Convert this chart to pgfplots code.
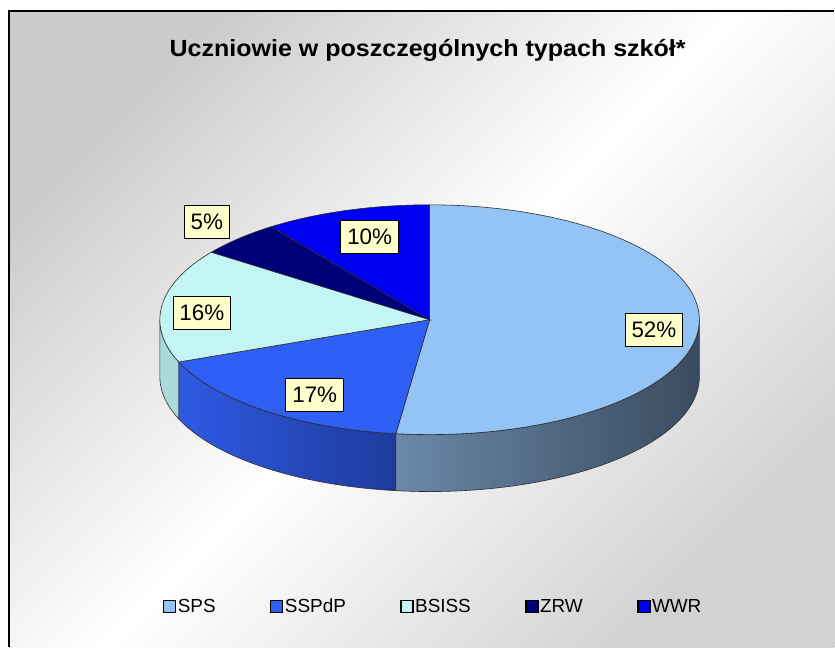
\documentclass[border=0pt]{standalone}
\usepackage{pgfplots}
\usepackage{pgfplotstable}
\pgfplotsset{compat=1.18}
\usepackage{fontspec}
\setmainfont{Liberation Sans}
\usepackage{graphicx}

\definecolor{cSPS}{RGB}{147,196,245}
\definecolor{cSSP}{RGB}{47,95,245}
\definecolor{cBSI}{RGB}{196,245,245}
\definecolor{cZRW}{RGB}{0,0,120}
\definecolor{cWWR}{RGB}{0,0,240}
\definecolor{edgec}{RGB}{45,45,45}
\definecolor{lblc}{RGB}{255,255,204}
\definecolor{wSPSa}{RGB}{106,136,168}
\definecolor{wSPSb}{RGB}{64,82,103}
\definecolor{wSPSc}{RGB}{58,75,95}
\definecolor{wSSPa}{RGB}{46,90,228}
\definecolor{wSSPb}{RGB}{38,74,196}
\definecolor{wSSPc}{RGB}{30,58,155}
\definecolor{wBSI}{RGB}{170,218,218}
\definecolor{bgA}{RGB}{204,204,204}
\definecolor{bgB}{RGB}{210,210,210}

\pgfplotstableread{
name pct
SPS 52
SSPdP 17
BSISS 16
ZRW 5
WWR 10
}\piedata

\def\cx{430}\def\cy{320}\def\rx{270}\def\ry{115}\def\dz{57}

\newcommand\wall[3]{%
\addplot[forget plot, draw=edgec, line width=0.6bp, #3, variable=\t,
  samples at={0,2,...,100,100.001,102,104,...,200}]
 ({\cx+\rx*cos(ifthenelse(\t<=100, #1+(#2-#1)*\t/100, #2-(#2-#1)*(\t-100)/100))},
  {\cy-\ry*sin(ifthenelse(\t<=100, #1+(#2-#1)*\t/100, #2-(#2-#1)*(\t-100)/100))+ifthenelse(\t<=100,0,\dz)}) -- cycle;}

\newcommand\slice[3]{%
\addplot[draw=edgec, line width=0.6bp, fill=#3, variable=\t, domain=0:100, samples=80]
 ({\cx+\rx*cos(#1+(#2-#1)*\t/100)},{\cy-\ry*sin(#1+(#2-#1)*\t/100)}) -- (axis cs:\cx,\cy) -- cycle;}

\tikzset{lbl/.style={draw=black, line width=0.8bp, fill=lblc, inner xsep=6.5bp,
  inner ysep=0pt, minimum height=33bp, font=\fontsize{22.5}{26}\selectfont}}

\begin{document}%
\begin{tikzpicture}
\pgfplotstablegetelem{0}{pct}\of\piedata \let\pA\pgfplotsretval
\pgfplotstablegetelem{1}{pct}\of\piedata \let\pB\pgfplotsretval
\pgfplotstablegetelem{2}{pct}\of\piedata \let\pC\pgfplotsretval
\pgfplotstablegetelem{3}{pct}\of\piedata \let\pD\pgfplotsretval
\pgfplotstablegetelem{4}{pct}\of\piedata \let\pE\pgfplotsretval
\pgfmathsetmacro\aA{90}
\pgfmathsetmacro\aB{\aA-3.6*\pA}
\pgfmathsetmacro\aC{\aB-3.6*\pB}
\pgfmathsetmacro\aD{\aC-3.6*\pC}
\pgfmathsetmacro\aE{\aD-3.6*\pD}
\pgfmathsetmacro\aF{\aE-3.6*\pE}
\begin{axis}[
  width=835bp, height=648bp, scale only axis,
  xmin=0, xmax=835, ymin=0, ymax=648, y dir=reverse,
  hide axis, clip=false,
  legend columns=5,
  legend style={at={(0.519,0.0633)}, anchor=center, draw=none, fill=none,
    font=\fontsize{19}{22}\selectfont, inner sep=0pt,
    nodes={inner xsep=1.5bp, inner ysep=0pt},
    /tikz/every even column/.append style={column sep=53bp}},
  legend cell align=left,
  legend image code/.code={\draw[#1, draw=black, line width=1.3bp] (0bp,-6bp) rectangle (12bp,6bp);},
]
\fill[white] (axis cs:0,0) rectangle (axis cs:835,648);
\path[top color=bgA, bottom color=bgB, middle color=white, shading angle=45]
  (axis cs:9,11) rectangle (axis cs:835,648);
\draw[line width=1.5bp] (axis cs:9,648) -- (axis cs:9,11) -- (axis cs:835,11);

\wall{-180}{\aC}{fill=wBSI}
\wall{\aC}{\aB}{left color=wSSPa, middle color=wSSPb, right color=wSSPc}
\wall{\aB}{0}{left color=wSPSa, middle color=wSPSb, right color=wSPSc}

\slice{\aA}{\aB}{cSPS}
\addlegendentry{SPS}
\slice{\aB}{\aC}{cSSP}
\addlegendentry{SSPdP}
\slice{\aC}{\aD}{cBSI}
\addlegendentry{BSISS}
\slice{\aD}{\aE}{cZRW}
\addlegendentry{ZRW}
\slice{\aE}{\aF}{cWWR}
\addlegendentry{WWR}

\node[font=\bfseries\fontsize{23.5}{28}\selectfont, anchor=base] at (axis cs:428,56.7)
  {\scalebox{1.07}[1]{Uczniowie w poszczególnych typach szkół*}};

\node[lbl] at (axis cs:654.5,330.5) {52\%};
\node[lbl] at (axis cs:315,395.5) {17\%};
\node[lbl] at (axis cs:202,313.5) {16\%};
\node[lbl] at (axis cs:207,222.5) {5\%};
\node[lbl] at (axis cs:370,237.5) {10\%};
\end{axis}
\end{tikzpicture}%
\end{document}
